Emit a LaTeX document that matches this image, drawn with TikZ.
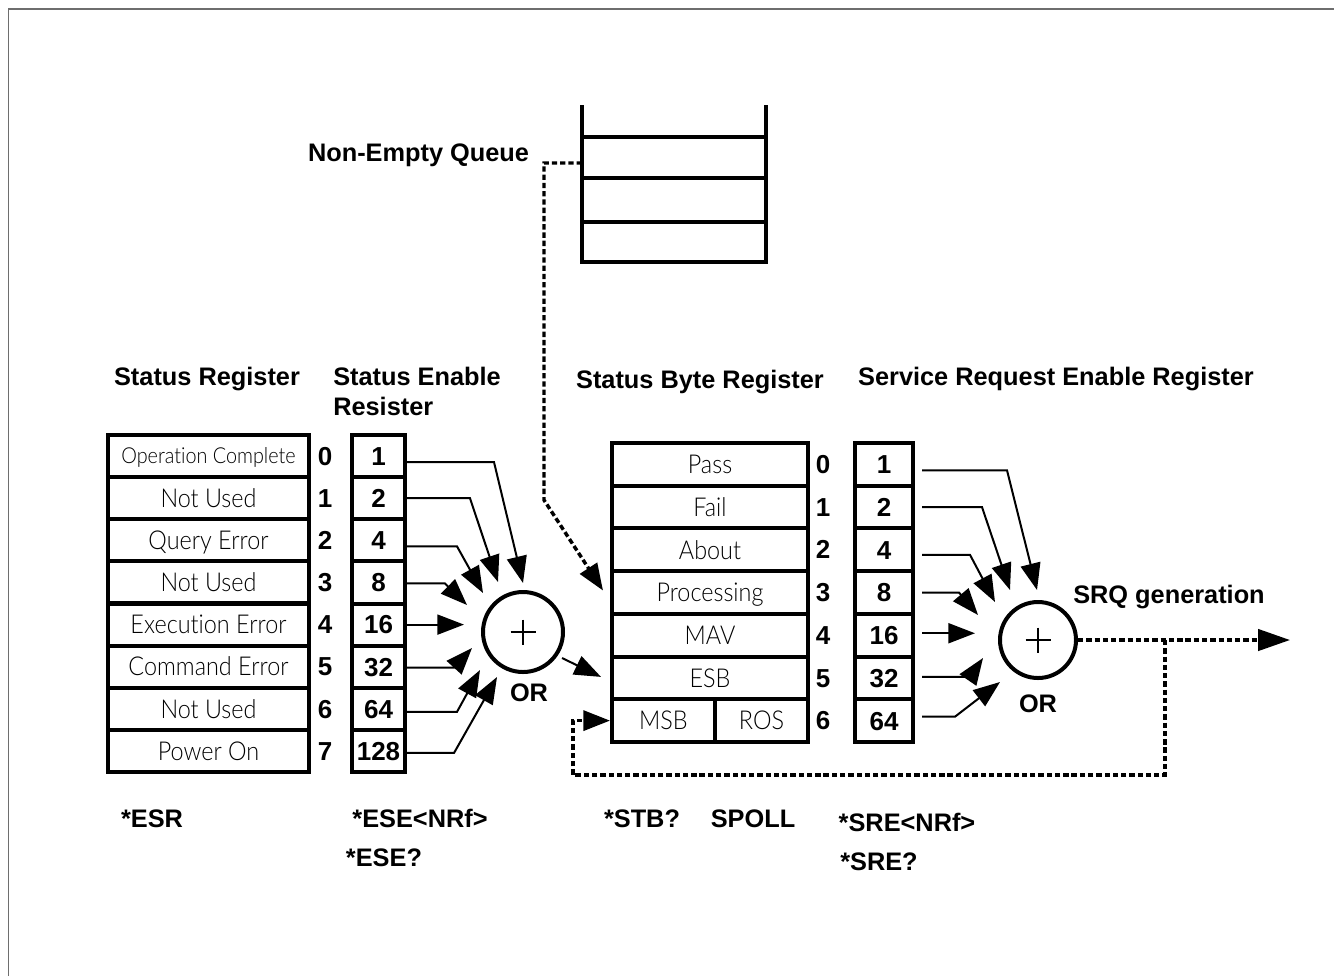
\documentclass[tikz,border=0pt]{standalone}
\usepackage{fontspec}
\setmainfont{Liberation Sans}
\newfontfamily\lightfont[FakeStretch=0.9,Ligatures=NoCommon]{Lato Light}
\usetikzlibrary{arrows.meta,calc}
\definecolor{framegray}{RGB}{110,110,110}
\begin{document}
\begin{tikzpicture}[x=0.75pt,y=-0.75pt,
  reg/.style={draw,line width=3pt,rectangle,inner sep=0pt,font=\lightfont\fontsize{19.5}{19.5}\selectfont,text height=13.8pt,text depth=0pt},
  srrow/.style={reg,minimum width=150.75pt,minimum height=31.6pt},
  serow/.style={reg,minimum width=39.75pt,minimum height=31.6pt,font=\bfseries\fontsize{19.5}{20}\selectfont,text height=14pt},
  sbrow/.style={reg,minimum width=147pt,minimum height=32.03pt},
  srerow/.style={reg,minimum width=43.5pt,minimum height=32.03pt,font=\bfseries\fontsize{19.5}{20}\selectfont,text height=14pt},
  lbl/.style={font=\bfseries\fontsize{19}{20}\selectfont,inner sep=0pt,text height=13.7pt,text depth=0pt},
  bit/.style={lbl,font=\bfseries\fontsize{19.5}{20}\selectfont},
  orgate/.style={draw,circle,line width=3pt,inner sep=0pt},
  arr/.style={line width=1.5pt,-{Triangle[length=20pt,width=15pt]}},
  dotline/.style={line width=2.6pt,dash pattern=on 4pt off 2.2pt},
  darr/.style={dotline,-{Triangle[length=20pt,width=15pt]}},
  qline/.style={line width=3pt},
]
\useasboundingbox (0,0) rectangle (1334,976);
% frame
\draw[line width=1pt,framegray] (8.5,976) -- (8.5,9) -- (1334,9);

% Status Register
\node[srrow,font=\lightfont\fontsize{16.5}{16.5}\selectfont,text height=11.8pt] (sr0) at (208.5,456.1) {Operation Complete};
\node[srrow] (sr1) at (208.5,498.2) {Not Used};
\node[srrow] (sr2) at (208.5,540.3) {Query Error};
\node[srrow] (sr3) at (208.5,582.4) {Not Used};
\node[srrow] (sr4) at (208.5,624.6) {Execution Error};
\node[srrow] (sr5) at (208.5,666.7) {Command Error};
\node[srrow] (sr6) at (208.5,708.8) {Not Used};
\node[srrow] (sr7) at (208.5,750.9) {Power On};
\foreach \i in {0,...,7} \node[bit] (srb\i) at (325,{456.1+42.125*\i}) {\i};

% Status Enable Register
\foreach \v [count=\i from 0] in {1,2,4,8,16,32,64,128}
  \node[serow] (se\i) at (378.5,{456.1+42.125*\i}) {\v};

% OR gate 1
\node[orgate,minimum size=60pt] (or1) at (523,632) {};
\draw[line width=1.8pt] ($(or1)+(-12.5,0)$) -- ($(or1)+(12.5,0)$) ($(or1)+(0,-12.5)$) -- ($(or1)+(0,12.5)$);
\node[lbl] (orl1) at (529,692) {OR};
\foreach \i/\oy/\dx/\tx/\ty in {0/6/87/0/-49,1/0/63/-25/-50,2/6/50/-40/-39,3/1/38/-56/-27,5/1/47/-51/16,6/3/50/-43/38,7/2/47/-26/45}
  \draw[arr] ([shift={(0,\oy)}]se\i.east) -- ++(\dx,0) -- ($(or1)+(\tx,\ty)$);
\draw[arr] (se4.east) -- ++(57,0);

% Status Byte Register
\node[sbrow] (sb0) at (710,464.4) {Pass};
\node[sbrow] (sb1) at (710,507.1) {Fail};
\node[sbrow] (sb2) at (710,549.8) {About};
\node[sbrow] (sb3) at (710,592.5) {Processing};
\node[sbrow] (sb4) at (710,635.2) {MAV};
\node[sbrow] (sb5) at (710,677.9) {ESB};
\node[reg,minimum width=77.25pt,minimum height=32.03pt] (msb) at (663.5,720.6) {MSB};
\node[reg,minimum width=69.75pt,minimum height=32.03pt] (ros) at (761.5,720.6) {ROS};
\foreach \i in {0,...,6} \node[bit] (sbb\i) at (823,{464.4+42.71*\i}) {\i};

\draw[arr] ([shift={(39,26)}]or1.center) -- ([shift={(-9,-1)}]sb5.west);

% Service Request Enable Register
\foreach \v [count=\i from 0] in {1,2,4,8,16,32,64}
  \node[srerow] (sre\i) at (884,{464.4+42.71*\i}) {\v};

% OR gate 2
\node[orgate,minimum size=57pt] (or2) at (1038,640) {};
\draw[line width=1.8pt] ($(or2)+(-12.5,0)$) -- ($(or2)+(12.5,0)$) ($(or2)+(0,-12.5)$) -- ($(or2)+(0,12.5)$);
\node[lbl] (orl2) at (1038,703) {OR};
\foreach \i/\oy/\dx/\tx/\ty in {0/6/85/-1/-50,1/0/60/-28/-50,2/5/48/-43/-38,3/0/37/-60/-25,5/-1/48/-55/18,6/-4/33/-38/42}
  \draw[arr] ([shift={(7,\oy)}]sre\i.east) -- ++(\dx,0) -- ($(or2)+(\tx,\ty)$);
\draw[arr] ([shift={(7,-2)}]sre4.east) -- ++(53,0);

% output and feedback
\coordinate (srq) at (1290,640);
\coordinate (fb) at (1165,640);
\draw[darr,-{Triangle[length=24pt,width=16pt]}] (or2.east) -- (srq);
\draw[darr] (fb) -- (1165,775) -- (573,775) |- (msb.west);

% Queue
\draw[qline] (582,105) -- (582,262) -- (766,262) -- (766,105);
\draw[qline] (582,137) -- (766,137) (582,178) -- (766,178) (582,222) -- (766,222);
\coordinate (qin) at (582,163);
\draw[darr] (qin) -- (544,163) -- (544,500) -- ([shift={(-7,-2)}]sb3.west);

% Labels
\node[lbl] (nq) at (418.5,152) {Non-Empty Queue};
\node[lbl] (t1) at (207,376) {Status Register};
\node[lbl,anchor=west] (t2) at (333,376) {Status Enable};
\node[lbl,anchor=west] (t2b) at (333,406) {Resister};
\node[lbl] (t3) at (700,379) {Status Byte Register};
\node[lbl] (t4) at (1056,376) {Service Request Enable Register};
\node[lbl] (srqlbl) at (1169,594) {SRQ generation};

\node[lbl] (c1) at (152,818) {*ESR};
\node[lbl] (c2) at (420,818) {*ESE<NRf>};
\node[lbl] (c3) at (384,857) {*ESE?};
\node[lbl] (c4) at (642,818) {*STB?};
\node[lbl] (c5) at (753,818) {SPOLL};
\node[lbl] (c6) at (907,822) {*SRE<NRf>};
\node[lbl] (c7) at (879,861) {*SRE?};
\end{tikzpicture}
\end{document}
